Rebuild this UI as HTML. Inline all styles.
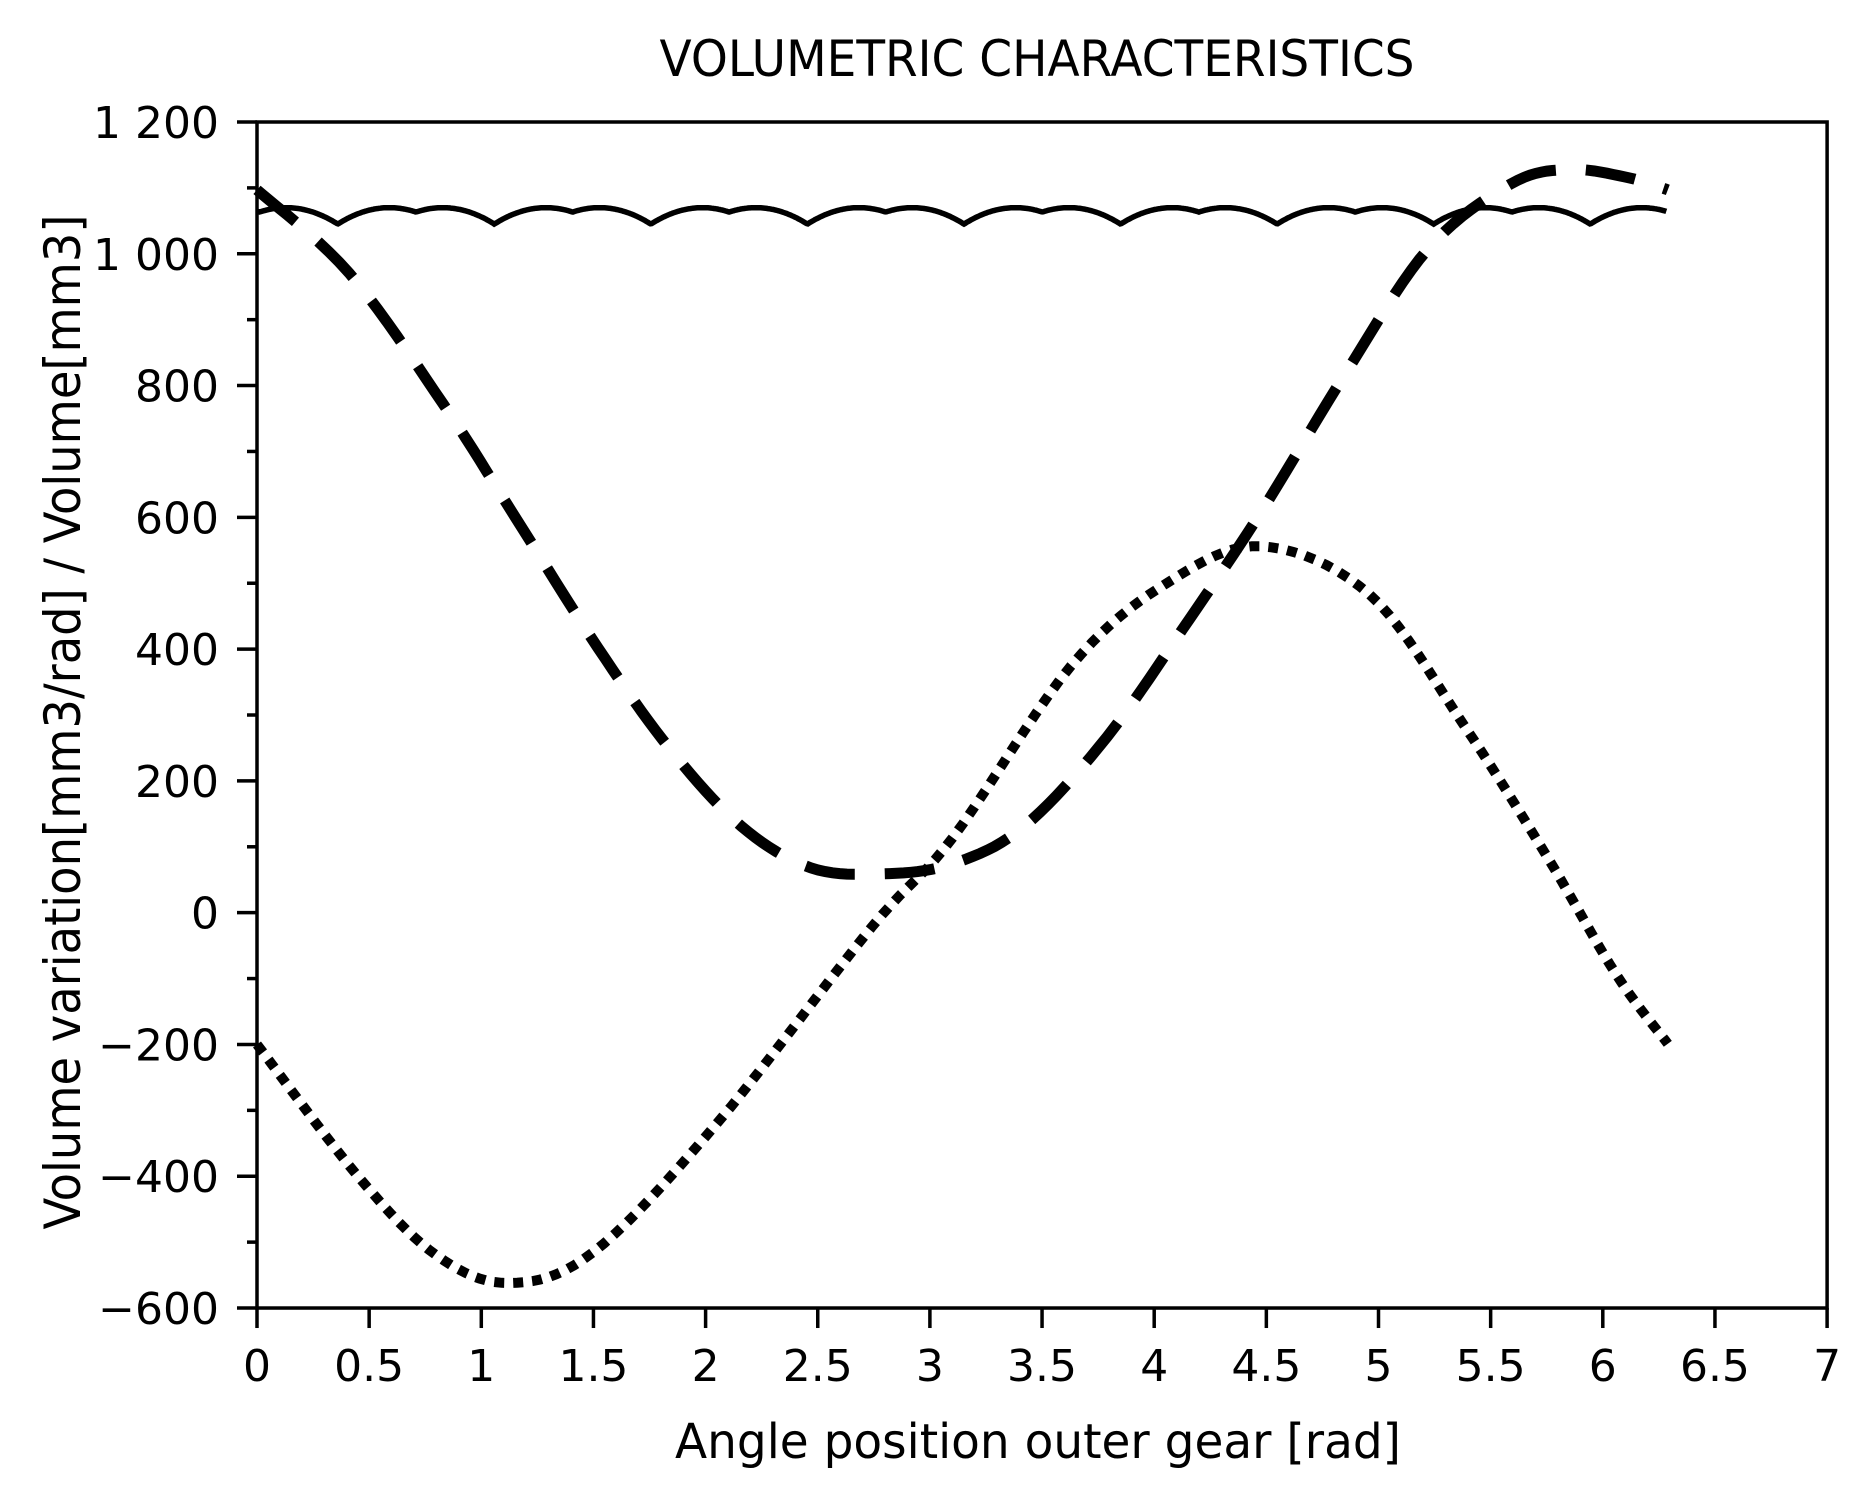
<!DOCTYPE html>
<html><head><meta charset="utf-8"><style>
html,body{margin:0;padding:0;background:#fff;}
svg{display:block;}
text{font-family:"DejaVu Sans","Liberation Sans",sans-serif;fill:#000;}
</style></head><body>
<svg id="s" width="1862" height="1506" viewBox="0 0 1862 1506" xmlns="http://www.w3.org/2000/svg">
<text x="1037" y="76" font-size="50" text-anchor="middle" textLength="755" lengthAdjust="spacingAndGlyphs">VOLUMETRIC CHARACTERISTICS</text>
<text x="1038" y="1458" font-size="48" text-anchor="middle" textLength="726" lengthAdjust="spacingAndGlyphs">Angle position outer gear [rad]</text>
<text transform="translate(80,722) rotate(-90)" font-size="50" text-anchor="middle" textLength="1015" lengthAdjust="spacingAndGlyphs">Volume variation[mm3/rad] / Volume[mm3]</text>
<g id="axes"></g>
<g id="series" fill="none" stroke="#000"></g>
</svg>
<script>
var NS="http://www.w3.org/2000/svg";
function X(v){return 257+224.3*v;}
function Y(v){return 122+(1200-v)*0.6589;}
function el(p,tag,at,txt){var e=document.createElementNS(NS,tag);for(var k in at)e.setAttribute(k,at[k]);if(txt!==undefined)e.textContent=txt;p.appendChild(e);return e;}
var ax=document.getElementById("axes");
el(ax,"rect",{x:X(0),y:Y(1200),width:X(7)-X(0),height:Y(-600)-Y(1200),fill:"none",stroke:"#000","stroke-width":3.5});
for(var v=-600;v<=1200;v+=100){
  var major=(v%200===0);
  el(ax,"line",{x1:X(0)-(major?20:10),x2:X(0),y1:Y(v),y2:Y(v),stroke:"#000","stroke-width":3.5});
  if(major){var t=v<0?"\u2212"+(-v):(v>=1000?"1 "+String(v).slice(1):String(v));
    el(ax,"text",{x:219,y:Y(v)+16,"font-size":44,"text-anchor":"end"},t);}
}
for(var i=0;i<=14;i++){var xv=i/2;
  el(ax,"line",{x1:X(xv),x2:X(xv),y1:Y(-600),y2:Y(-600)+20,stroke:"#000","stroke-width":3.5});
  el(ax,"text",{x:X(xv),y:1381,"font-size":44,"text-anchor":"middle"},String(xv));
}
var sr=document.getElementById("series");
var d="";
for(var k=0;k<=1200;k++){var x=6.283*k/1200;var P=0.698;var p=((x-0.36)%P+P)%P;var c=p<0.349?0.23:0.468;var v=1070-472*(p-c)*(p-c);
 d+=(k?"L":"M")+X(x).toFixed(1)+" "+Y(v).toFixed(1);}
el(sr,"path",{d:d,"stroke-width":5.5});
function spline(pts){var s="M"+X(pts[0][0])+" "+Y(pts[0][1]);
 for(var i=0;i<pts.length-1;i++){var p0=pts[Math.max(0,i-1)],p1=pts[i],p2=pts[i+1],p3=pts[Math.min(pts.length-1,i+2)];
  for(var t=1;t<=10;t++){var u=t/10,u2=u*u,u3=u2*u;
   var f=function(a,b,c,d){return 0.5*((2*b)+(-a+c)*u+(2*a-5*b+4*c-d)*u2+(-a+3*b-3*c+d)*u3);};
   s+="L"+X(f(p0[0],p1[0],p2[0],p3[0])).toFixed(1)+" "+Y(f(p0[1],p1[1],p2[1],p3[1])).toFixed(1);}}
 return s;}
var dashed=[[0,1097],[0.41,971],[0.83,772],[1.15,601],[1.52,402],[1.84,249],[2.16,131],[2.47,68],[2.79,59],[3.1,74],[3.42,131],[3.79,267],[4.16,447],[4.48,610],[4.85,817],[5.22,1007],[5.59,1106],[5.85,1128],[6.12,1115],[6.29,1097]];
var dotted=[[0,-200],[0.45,-400],[0.8,-520],[1.125,-562],[1.5,-515],[2.05,-320],[2.74,-22],[3.1,113],[3.63,375],[4.06,501],[4.48,556],[4.96,483],[5.38,285],[5.75,86],[6.06,-94],[6.29,-199]];
el(sr,"path",{d:spline(dashed),"stroke-width":11,"stroke-dasharray":"50 30"});
el(sr,"path",{d:spline(dotted),"stroke-width":10,"stroke-dasharray":"10 9"});
</script>
</body></html>
